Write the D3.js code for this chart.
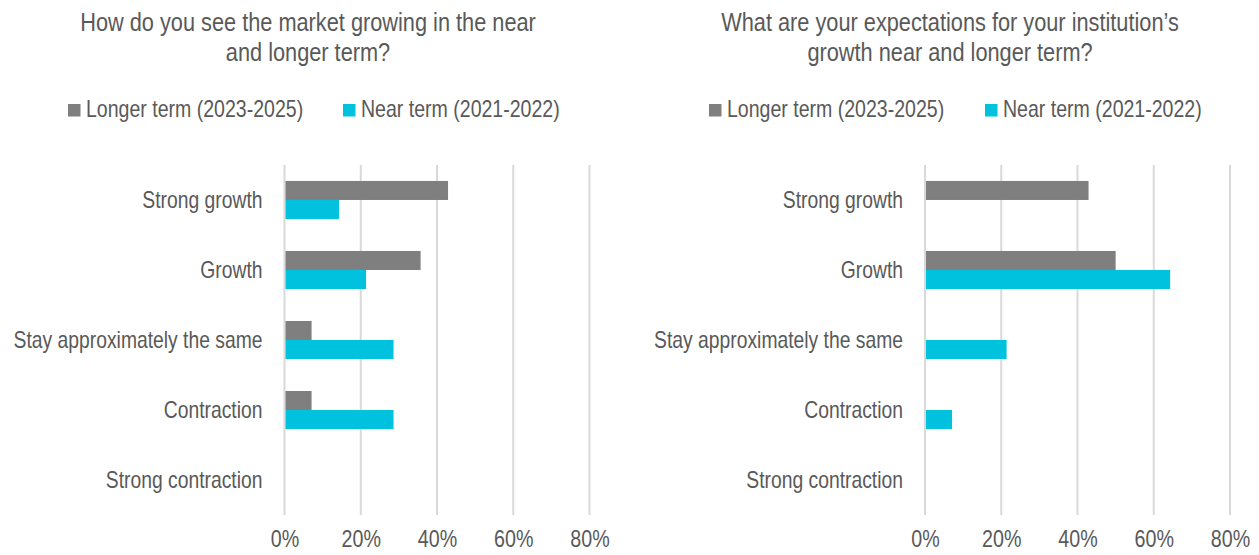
<!DOCTYPE html>
<html>
<head>
<meta charset="utf-8">
<script src="https://cdn.jsdelivr.net/npm/d3@7"></script>
<style>
  html, body { margin: 0; padding: 0; background: #fff; }
  svg text { font-family: "Liberation Sans", Arial, sans-serif; fill: #595959; }
</style>
</head>
<body>
<svg id="chart" width="1259" height="555"></svg>
<script>
const categories = ["Strong growth", "Growth", "Stay approximately the same", "Contraction", "Strong contraction"];
const seriesNames = ["Longer term (2023-2025)", "Near term (2021-2022)"];
const seriesColors = ["#7f7f7f", "#00c2de"];
const tickValues = [0, 0.2, 0.4, 0.6, 0.8];

// Market outlook
const marketLonger = [0.429, 0.357, 0.071, 0.071, 0];
const marketNear   = [0.143, 0.214, 0.286, 0.286, 0];

// Institution outlook
const instLonger = [0.429, 0.50, 0, 0, 0];
const instNear   = [0, 0.643, 0.214, 0.071, 0];

const titles = [
  ["How do you see the market growing in the near", "and longer term?"],
  ["What are your expectations for your institution\u2019s", "growth near and longer term?"]
];

const svg = d3.select("#chart");

// condensed text: horizontal squeeze around the anchor point
function ntext(parent, x, y, anchor, size, sx, str) {
  return parent.append("g")
    .attr("transform", `translate(${x},${y}) scale(${sx},1)`)
    .append("text")
    .attr("text-anchor", anchor)
    .style("font-size", size + "px")
    .text(str);
}

function drawPanel(cfg) {
  const g = svg.append("g");

  // title
  cfg.title.forEach((line, i) => ntext(g, cfg.titleX, 31 + i * 30, "middle", 25, 0.87, line));

  // legend
  seriesNames.forEach((name, i) => {
    const lx = cfg.legendX[i];
    g.append("rect").attr("x", lx).attr("y", 104).attr("width", 12.5).attr("height", 12.5)
      .attr("fill", seriesColors[i]);
    ntext(g, lx + 18, 117, "start", 23, 0.85, name);
  });

  const x = d3.scaleLinear().domain([0, 0.8]).range([cfg.x0, cfg.x0 + 305]);
  const y = d3.scaleBand().domain(categories).range([165, 515]).paddingInner(0.457).paddingOuter(0.228);
  const sub = d3.scaleBand().domain(seriesNames).range([0, y.bandwidth()]);

  // gridlines
  g.append("g").selectAll("line").data(tickValues).join("line")
    .attr("x1", d => x(d)).attr("x2", d => x(d))
    .attr("y1", 165).attr("y2", 515)
    .attr("stroke", "#d9d9d9").attr("stroke-width", 2);

  // bars
  const rows = categories.map((c, i) => ({ c, vals: [cfg.longer[i], cfg.near[i]] }));
  const rowG = g.append("g").selectAll("g").data(rows).join("g")
    .attr("transform", d => `translate(0,${y(d.c)})`);
  rowG.selectAll("rect").data(d => d.vals.map((v, i) => ({ v, s: seriesNames[i], i })))
    .join("rect")
    .attr("x", x(0) + 1)
    .attr("y", d => sub(d.s))
    .attr("width", d => Math.max(0, x(d.v) - x(0) - 1))
    .attr("height", sub.bandwidth())
    .attr("fill", d => seriesColors[d.i]);

  // category labels
  categories.forEach(c => {
    ntext(g, x(0) - 22, y(c) + y.bandwidth() / 2 + 8, "end", 23, 0.84, c);
  });

  // x axis tick labels
  const axis = d3.axisBottom(x).tickValues(tickValues).tickFormat(d3.format(".0%")).tickSize(0).tickPadding(0);
  const ax = g.append("g").attr("transform", "translate(0,531)").call(axis);
  ax.select(".domain").remove();
  ax.selectAll("text")
    .attr("dy", "0.71em")
    .attr("transform", "scale(0.857,1)")
    .attr("fill", "#595959")
    .style("font-size", "23px")
    .style("font-family", "'Liberation Sans', Arial, sans-serif");
}

drawPanel({ title: titles[0], titleX: 308, legendX: [68, 343], x0: 284.5, longer: marketLonger, near: marketNear });
drawPanel({ title: titles[1], titleX: 950, legendX: [709, 985], x0: 925, longer: instLonger, near: instNear });
</script>
</body>
</html>
